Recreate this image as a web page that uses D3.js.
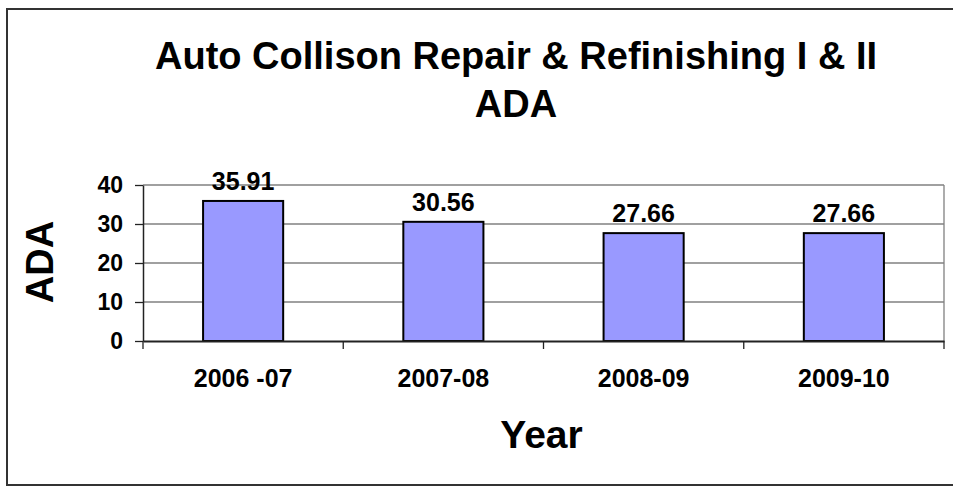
<!DOCTYPE html>
<html>
<head>
<meta charset="utf-8">
<script src="https://cdn.jsdelivr.net/npm/d3@7"></script>
<style>
  body { margin: 0; background: #fff; }
  text { font-family: Arial, "Liberation Sans", sans-serif; font-weight: bold; fill: #000; }
</style>
</head>
<body>
<script>
/* ------------------------------ Data ------------------------------ */
const years = ["2006 -07", "2007-08", "2008-09", "2009-10"];
const ada = [35.91, 30.56, 27.66, 27.66];
const yTicks = [0, 10, 20, 30, 40];

/* ------------------------------ Layout ------------------------------ */
const width = 953, height = 487;
const plot = { left: 143, top: 185, right: 944, bottom: 341 };

const svg = d3.select("body").append("svg")
    .attr("width", width)
    .attr("height", height);

// outer chart border
svg.append("rect")
    .attr("x", 7).attr("y", 9)
    .attr("width", width).attr("height", 476)
    .attr("fill", "none")
    .attr("stroke", "#333")
    .attr("stroke-width", 2);

const x = d3.scaleBand()
    .domain(years)
    .range([plot.left, plot.right])
    .paddingInner(0.6)
    .paddingOuter(0.3);

const y = d3.scaleLinear()
    .domain([0, 40])
    .range([plot.bottom, plot.top]);

// gridlines
svg.append("g")
    .selectAll("line")
    .data(yTicks.filter(d => d > 0))
    .join("line")
    .attr("x1", plot.left).attr("x2", plot.right)
    .attr("y1", d => y(d)).attr("y2", d => y(d))
    .attr("stroke", "#808080")
    .attr("stroke-width", 1.3);

// right border of plot area
svg.append("line")
    .attr("x1", plot.right).attr("x2", plot.right)
    .attr("y1", plot.top).attr("y2", plot.bottom)
    .attr("stroke", "#808080")
    .attr("stroke-width", 1.3);

// bars
svg.append("g")
    .selectAll("rect")
    .data(ada)
    .join("rect")
    .attr("x", (d, i) => x(years[i]))
    .attr("y", d => y(d))
    .attr("width", x.bandwidth())
    .attr("height", d => y(0) - y(d))
    .attr("fill", "#9999ff")
    .attr("stroke", "#000")
    .attr("stroke-width", 2);

// value labels
svg.append("g")
    .selectAll("text")
    .data(ada)
    .join("text")
    .attr("x", (d, i) => x(years[i]) + x.bandwidth() / 2)
    .attr("y", d => y(d) - 11)
    .attr("text-anchor", "middle")
    .style("font-size", "25px")
    .text(d => d.toFixed(2));

/* ------------------------------ Axes ------------------------------ */
const yAxis = svg.append("g")
    .attr("transform", `translate(${plot.left},0)`)
    .call(d3.axisLeft(y).tickValues(yTicks).tickSize(8).tickSizeOuter(0).tickPadding(12));
yAxis.select(".domain").attr("stroke", "#222").attr("stroke-width", 1.5);
yAxis.selectAll(".tick line").attr("stroke", "#222").attr("stroke-width", 1.3);
yAxis.selectAll("text").style("font-size", "23px").attr("fill", "#000");

const xAxis = svg.append("g")
    .attr("transform", `translate(0,${plot.bottom})`)
    .call(d3.axisBottom(x).tickSize(0).tickSizeOuter(0).tickPadding(28));
xAxis.select(".domain").attr("stroke", "#222").attr("stroke-width", 2);
xAxis.selectAll("text").style("font-size", "25px").attr("fill", "#000");

// category boundary ticks
const edges = d3.range(years.length + 1).map(i => plot.left + i * x.step());
xAxis.append("g")
    .selectAll("line")
    .data(edges)
    .join("line")
    .attr("x1", d => d).attr("x2", d => d)
    .attr("y1", 0).attr("y2", 8)
    .attr("stroke", "#222")
    .attr("stroke-width", 1.3);

/* ------------------------------ Titles ------------------------------ */
const title = svg.append("text")
    .attr("text-anchor", "middle")
    .style("font-size", "38px");
title.append("tspan").attr("x", 516).attr("y", 69).text("Auto Collison Repair & Refinishing I & II");
title.append("tspan").attr("x", 516).attr("y", 117).text("ADA");

svg.append("text")
    .attr("transform", "translate(53,262) rotate(-90)")
    .attr("text-anchor", "middle")
    .style("font-size", "38px")
    .text("ADA");

svg.append("text")
    .attr("x", (plot.left + plot.right) / 2 - 2)
    .attr("y", 448)
    .attr("text-anchor", "middle")
    .style("font-size", "39px")
    .text("Year");
</script>
</body>
</html>
